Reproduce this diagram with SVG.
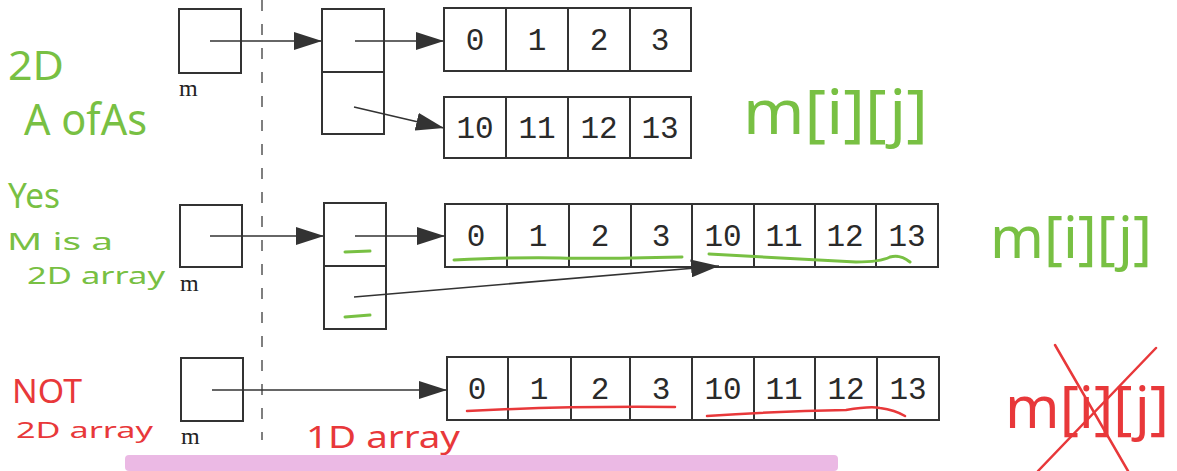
<svg xmlns="http://www.w3.org/2000/svg" width="1177" height="471" viewBox="0 0 1177 471">
<style>
.box{fill:#fff;stroke:#333;stroke-width:2}
.div{stroke:#333;stroke-width:2}
.num{font-family:"Liberation Mono",monospace;font-size:31px;fill:#2a2a2a;text-anchor:middle}
.lbl{font-family:"Liberation Serif",serif;font-size:24px;fill:#222}
.con{stroke:#333;stroke-width:1.6;fill:none;marker-end:url(#ah)}
.g{font-family:"Noto Sans",sans-serif;fill:#78c043}
.r{font-family:"Noto Sans",sans-serif;fill:#e8383a}
.gl{stroke:#78c043;stroke-width:3;fill:none;stroke-linecap:round}
.rl{stroke:#e8383a;stroke-width:2.5;fill:none;stroke-linecap:round}
</style>
<defs>
<marker id="ah" markerUnits="userSpaceOnUse" markerWidth="28" markerHeight="18" refX="28" refY="9" orient="auto">
<path d="M0,0 L28,9 L0,18 Z" fill="#333"/>
</marker>
</defs>
<rect width="1177" height="471" fill="#fff"/>
<rect x="125" y="455" width="713" height="16" rx="4" fill="#ebb9e4"/>
<line x1="262" y1="0" x2="262" y2="440" stroke="#555" stroke-width="1.5" stroke-dasharray="11,13"/>

<g id="m-top">
<rect class="box" x="179" y="9" width="62" height="64"/>
<text class="lbl" x="179" y="96">m</text>
</g>
<g id="ptr-top">
<rect class="box" x="322" y="9" width="62" height="125"/>
<line class="div" x1="322" y1="72" x2="384" y2="72"/>
</g>
<g id="arr-top-0">
<rect class="box" x="444" y="8" width="247" height="63"/>
<line class="div" x1="506" y1="8" x2="506" y2="71"/>
<line class="div" x1="568" y1="8" x2="568" y2="71"/>
<line class="div" x1="630" y1="8" x2="630" y2="71"/>
<text class="num" x="475" y="50">0</text>
<text class="num" x="537" y="50">1</text>
<text class="num" x="599" y="50">2</text>
<text class="num" x="660" y="50">3</text>
</g>
<g id="arr-top-1">
<rect class="box" x="444" y="97" width="247" height="61"/>
<line class="div" x1="506" y1="97" x2="506" y2="158"/>
<line class="div" x1="568" y1="97" x2="568" y2="158"/>
<line class="div" x1="630" y1="97" x2="630" y2="158"/>
<text class="num" x="475" y="138">10</text>
<text class="num" x="537" y="138">11</text>
<text class="num" x="599" y="138">12</text>
<text class="num" x="660" y="138">13</text>
</g>

<g id="m-mid">
<rect class="box" x="180" y="205" width="62" height="62"/>
<text class="lbl" x="180" y="291">m</text>
</g>
<g id="ptr-mid">
<rect class="box" x="324" y="203" width="62" height="126"/>
<line class="div" x1="324" y1="266" x2="386" y2="266"/>
</g>
<g id="arr-mid">
<rect class="box" x="445" y="204" width="493" height="63"/>
<line class="div" x1="507" y1="204" x2="507" y2="267"/>
<line class="div" x1="569" y1="204" x2="569" y2="267"/>
<line class="div" x1="631" y1="204" x2="631" y2="267"/>
<line class="div" x1="692" y1="204" x2="692" y2="267"/>
<line class="div" x1="754" y1="204" x2="754" y2="267"/>
<line class="div" x1="815" y1="204" x2="815" y2="267"/>
<line class="div" x1="876" y1="204" x2="876" y2="267"/>
<text class="num" x="476" y="246">0</text>
<text class="num" x="538" y="246">1</text>
<text class="num" x="600" y="246">2</text>
<text class="num" x="661" y="246">3</text>
<text class="num" x="723" y="246">10</text>
<text class="num" x="784" y="246">11</text>
<text class="num" x="845" y="246">12</text>
<text class="num" x="907" y="246">13</text>
</g>

<g id="m-bot">
<rect class="box" x="181" y="358" width="62" height="63"/>
<text class="lbl" x="181" y="444">m</text>
</g>
<g id="arr-bot">
<rect class="box" x="447" y="357" width="492" height="63"/>
<line class="div" x1="508" y1="357" x2="508" y2="420"/>
<line class="div" x1="571" y1="357" x2="571" y2="420"/>
<line class="div" x1="630" y1="357" x2="630" y2="420"/>
<line class="div" x1="692" y1="357" x2="692" y2="420"/>
<line class="div" x1="754" y1="357" x2="754" y2="420"/>
<line class="div" x1="815" y1="357" x2="815" y2="420"/>
<line class="div" x1="877" y1="357" x2="877" y2="420"/>
<text class="num" x="477" y="399">0</text>
<text class="num" x="539" y="399">1</text>
<text class="num" x="600" y="399">2</text>
<text class="num" x="661" y="399">3</text>
<text class="num" x="723" y="399">10</text>
<text class="num" x="784" y="399">11</text>
<text class="num" x="846" y="399">12</text>
<text class="num" x="908" y="399">13</text>
</g>

<g id="connectors">
<line class="con" x1="210" y1="41" x2="322" y2="41"/>
<line class="con" x1="355" y1="41" x2="444" y2="41"/>
<line class="con" x1="354" y1="107" x2="444" y2="128"/>
<line class="con" x1="210" y1="236" x2="324" y2="236"/>
<line class="con" x1="355" y1="236" x2="445" y2="236"/>
<line class="con" x1="354" y1="297" x2="719" y2="266"/>
<line class="con" x1="212" y1="390" x2="447" y2="390"/>
</g>

<g id="notes-green">
<text class="g" x="8" y="80" font-size="40" textLength="56" lengthAdjust="spacingAndGlyphs">2D</text>
<text class="g" x="24" y="135" font-size="44" textLength="123" lengthAdjust="spacingAndGlyphs">A ofAs</text>
<text class="g" x="743" y="134" font-size="62" textLength="185" lengthAdjust="spacingAndGlyphs">m[i][j]</text>
<text class="g" x="8" y="208" font-size="34" textLength="52" lengthAdjust="spacingAndGlyphs">Yes</text>
<text class="g" x="7" y="250" font-size="23" textLength="106" lengthAdjust="spacingAndGlyphs">M is a</text>
<text class="g" x="27" y="284" font-size="23" textLength="138" lengthAdjust="spacingAndGlyphs">2D array</text>
<text class="g" x="990" y="258" font-size="58" textLength="162" lengthAdjust="spacingAndGlyphs">m[i][j]</text>
<path class="gl" d="M345,252 L370,251"/>
<path class="gl" d="M345,317 L370,315"/>
<path class="gl" d="M454,260 Q520,257 560,258 T682,257"/>
<path class="gl" d="M709,254 Q780,258 856,262 Q880,262 890,257 Q900,254 910,262"/>
</g>

<g id="notes-red">
<text class="r" x="12" y="403" font-size="32" textLength="70" lengthAdjust="spacingAndGlyphs">NOT</text>
<text class="r" x="16" y="438" font-size="22" textLength="137" lengthAdjust="spacingAndGlyphs">2D array</text>
<text class="r" x="306" y="448" font-size="30" textLength="154" lengthAdjust="spacingAndGlyphs">1D array</text>
<text class="r" x="1005" y="428" font-size="58" textLength="164" lengthAdjust="spacingAndGlyphs">m[i][j]</text>
<path class="rl" d="M1055,345 L1128,471"/>
<path class="rl" d="M1156,348 L1038,471"/>
<path class="rl" d="M467,411 Q560,406 675,407"/>
<path class="rl" d="M707,416 Q780,411 846,410 Q870,406 880,408 Q895,410 905,416"/>
</g>
</svg>
